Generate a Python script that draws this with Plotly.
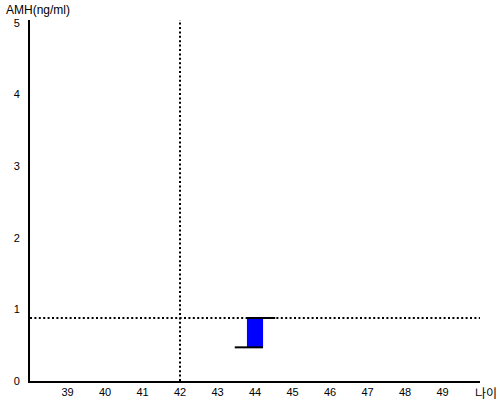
import plotly.graph_objects as go

# data
ages = [44]
amh_low = [0.47]
amh_high = [0.88]
cutoff_age = 42
cutoff_amh = 0.88
x_ticks = list(range(39, 50))
y_ticks = list(range(0, 6))

box_w = 0.43
tick_len = 0.54

fig = go.Figure()

fig.add_trace(go.Bar(x=ages, y=[h - l for h, l in zip(amh_high, amh_low)], base=amh_low,
                     width=box_w, marker=dict(color="#0000FF", line=dict(width=0)),
                     showlegend=False, hoverinfo="skip"))

# side ticks: low on the left, high on the right
for a, lo, hi in zip(ages, amh_low, amh_high):
    fig.add_trace(go.Scatter(x=[a - tick_len, a + box_w / 2], y=[lo, lo], mode="lines",
                             line=dict(color="black", width=2), showlegend=False))
    fig.add_trace(go.Scatter(x=[a - box_w / 2, a + tick_len], y=[hi, hi], mode="lines",
                             line=dict(color="black", width=2), showlegend=False))

fig.add_vline(x=cutoff_age, line=dict(color="black", width=2, dash="2px,2.4px"))
fig.add_hline(y=cutoff_amh, line=dict(color="black", width=2, dash="2px,2.4px"))

fig.add_annotation(text="AMH(ng/ml)", xref="paper", yref="paper", x=-0.058, y=1.052,
                   xanchor="left", yanchor="top", showarrow=False,
                   font=dict(size=12, color="black"))
fig.add_annotation(text="나이", xref="paper", yref="paper", x=0.985, y=0,
                   xanchor="left", yanchor="top", yshift=-1, showarrow=False,
                   font=dict(size=12, color="black", family="Noto Sans CJK KR"))

fig.update_xaxes(range=[38, 50], tickvals=x_ticks, showgrid=False, zeroline=False,
                 showline=True, linecolor="black", linewidth=1.5, ticks="",
                 automargin=False, tickfont=dict(size=11, color="black"))
fig.update_yaxes(range=[0, 5.04], tickvals=y_ticks, showgrid=False, zeroline=False,
                 showline=True, linecolor="black", linewidth=2, ticks="",
                 ticklabelstandoff=6,
                 automargin=False, tickfont=dict(size=11, color="black"))
fig.update_layout(width=500, height=400, plot_bgcolor="white", paper_bgcolor="white",
                  margin=dict(l=30, r=20, t=20, b=19),
                  font=dict(family="Liberation Sans, Arial, sans-serif"))

fig.write_html("out.html", config={"displayModeBar": False},
               post_script="document.body.style.margin='0';")
